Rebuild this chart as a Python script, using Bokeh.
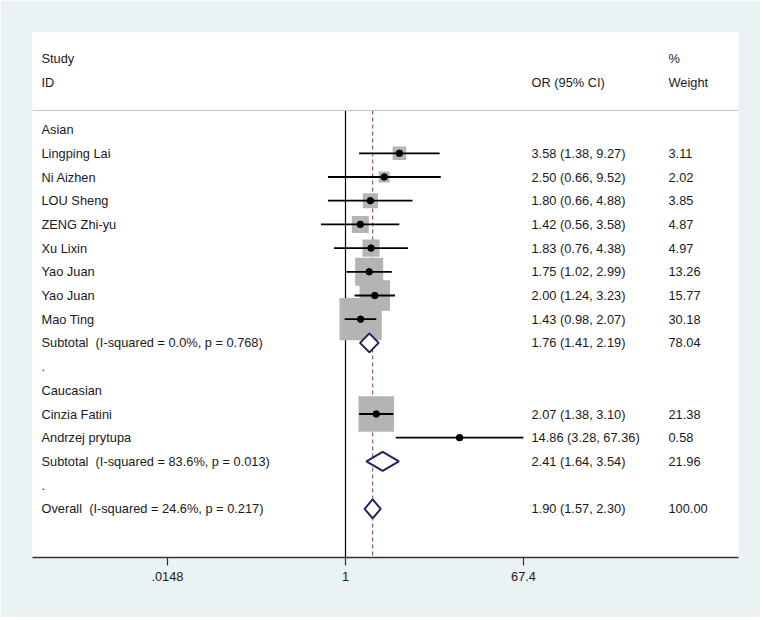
import math
from bokeh.plotting import figure
from bokeh.models import Range1d, FixedTicker, Span, ColumnDataSource
from bokeh.core.properties import value
from bokeh.embed import file_html
from bokeh.resources import INLINE

# ---------------- data ----------------
row_labels = ["Asian", "Lingping Lai", "Ni Aizhen", "LOU Sheng", "ZENG Zhi-yu", "Xu Lixin",
              "Yao Juan", "Yao Juan", "Mao Ting",
              "Subtotal \u00a0(I-squared = 0.0%, p = 0.768)", ".",
              "Caucasian", "Cinzia Fatini", "Andrzej prytupa",
              "Subtotal \u00a0(I-squared = 83.6%, p = 0.013)", ".",
              "Overall \u00a0(I-squared = 24.6%, p = 0.217)"]
row_index = [3, 4, 5, 6, 7, 8, 9, 10, 11, 12, 13, 14, 15, 16, 17, 18, 19]

study_rows = [4, 5, 6, 7, 8, 9, 10, 11, 15, 16]
study_or = [3.58, 2.50, 1.80, 1.42, 1.83, 1.75, 2.00, 1.43, 2.07, 14.86]
study_lo = [1.38, 0.66, 0.66, 0.56, 0.76, 1.02, 1.24, 0.98, 1.38, 3.28]
study_hi = [9.27, 9.52, 4.88, 3.58, 4.38, 2.99, 3.23, 2.07, 3.10, 67.36]
study_weight = [3.11, 2.02, 3.85, 4.87, 4.97, 13.26, 15.77, 30.18, 21.38, 0.58]

pooled_rows = [12, 17, 19]
pooled_or = [1.76, 2.41, 1.90]
pooled_lo = [1.41, 1.64, 1.57]
pooled_hi = [2.19, 3.54, 2.30]
pooled_weight = [78.04, 21.96, 100.00]

overall_or = 1.90
tick_values = [0.0148, 1, 67.4]
tick_labels = [".0148", "1", "67.4"]

# ---------------- layout helpers ----------------
PX0 = 345.0      # pixel of OR = 1 (page coords)
PPU = 42.27      # pixels per ln unit
ROW0 = 58.0      # pixel of row 0
ROWH = 23.7      # pixels per row


def px_to_x(px):
    return math.exp((px - PX0) / PPU)


def py_to_r(py):
    return (py - ROW0) / ROWH


W, H = 760, 617
FRAME_L, FRAME_R, FRAME_T, FRAME_B = 32, 738, 32, 557
header_r = py_to_r(110)

p = figure(width=W, height=H, output_backend="svg", toolbar_location=None,
           x_axis_type="log",
           x_range=Range1d(px_to_x(FRAME_L), px_to_x(FRAME_R)),
           y_range=Range1d(py_to_r(FRAME_B), py_to_r(FRAME_T)),
           min_border_left=FRAME_L, min_border_right=W - FRAME_R,
           min_border_top=FRAME_T, min_border_bottom=H - FRAME_B)
p.yaxis.visible = False
p.xgrid.visible = False
p.ygrid.visible = False
p.outline_line_color = None
p.background_fill_color = "white"
p.border_fill_color = "#EAF2F3"

FONT = value("Liberation Sans")
FS = "12.8px"
TC = "#1a1a1a"

# header separator
p.add_layout(Span(location=header_r, dimension="width", line_color="#C4C4C4", line_width=1))

# null line and overall line
bottom_r = py_to_r(FRAME_B)
p.segment(x0=[1], y0=[header_r], x1=[1], y1=[bottom_r], line_color="black", line_width=1.2)
p.segment(x0=[overall_or], y0=[header_r], x1=[overall_or], y1=[bottom_r],
          line_color="#9B5A6A", line_width=1.2, line_dash="4 3")

# weight boxes
box_sizes = [7.7 * math.sqrt(w) for w in study_weight]
src = ColumnDataSource(dict(x=study_or, y=study_rows, lo=study_lo, hi=study_hi, s=box_sizes))
p.scatter(x="x", y="y", size="s", marker="square", source=src,
          fill_color="#B4B4B4", line_color=None)
# CI lines
p.segment(x0="lo", y0="y", x1="hi", y1="y", source=src, line_color="black", line_width=1.8)
# points
p.scatter(x="x", y="y", size=6.5, marker="circle", source=src, fill_color="black", line_color="black")

# pooled diamonds
dh = 0.4
xs = [[lo, o, hi, o] for lo, o, hi in zip(pooled_lo, pooled_or, pooled_hi)]
ys = [[r, r - dh, r, r + dh] for r in pooled_rows]
p.patches(xs=xs, ys=ys, fill_color="white", line_color="#1E2460", line_width=2)

# text columns
x_lab = px_to_x(41)
x_or = px_to_x(531)
x_wt = px_to_x(668)

p.text(x=[x_lab, x_lab], y=[0, 1], text=["Study", "ID"], text_font=FONT, text_font_size=FS,
       text_baseline="middle", text_color=TC)
p.text(x=[x_or], y=[1], text=["OR (95% CI)"], text_font=FONT, text_font_size=FS,
       text_baseline="middle", text_color=TC)
p.text(x=[x_wt, x_wt], y=[0, 1], text=["%", "Weight"], text_font=FONT, text_font_size=FS,
       text_baseline="middle", text_color=TC)

p.text(x=[x_lab] * len(row_labels), y=row_index, text=row_labels, text_font=FONT,
       text_font_size=FS, text_baseline="middle", text_color=TC)

all_rows = study_rows + pooled_rows
or_txt = ["%.2f (%.2f, %.2f)" % (o, lo, hi) for o, lo, hi in
          zip(study_or + pooled_or, study_lo + pooled_lo, study_hi + pooled_hi)]
wt_txt = ["%.2f" % w for w in study_weight + pooled_weight]
p.text(x=[x_or] * len(all_rows), y=all_rows, text=or_txt, text_font=FONT, text_font_size=FS,
       text_baseline="middle", text_color=TC)
p.text(x=[x_wt] * len(all_rows), y=all_rows, text=wt_txt, text_font=FONT, text_font_size=FS,
       text_baseline="middle", text_color=TC)

# x axis
ax = p.xaxis[0]
ax.ticker = FixedTicker(ticks=tick_values)
ax.major_label_overrides = {t: l for t, l in zip(tick_values, tick_labels)}
ax.minor_tick_line_color = None
ax.major_tick_in = 0
ax.major_tick_out = 8
ax.axis_line_color = "#333333"
ax.axis_line_width = 1.5
ax.major_tick_line_color = "#333333"
ax.major_tick_line_width = 1.2
ax.major_label_text_font = "Liberation Sans"
ax.major_label_text_font_size = "12.8px"
ax.major_label_text_color = TC
ax.major_label_standoff = 6

open("out.html", "w").write(file_html(p, INLINE))
